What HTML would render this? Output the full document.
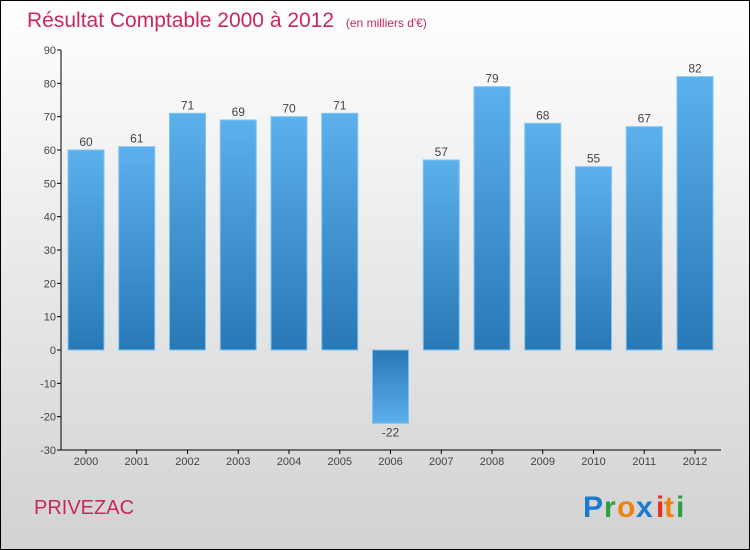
<!DOCTYPE html>
<html><head><meta charset="utf-8"><style>
body{margin:0;}
svg{display:block;font-family:"Liberation Sans",sans-serif;}
</style></head><body>
<svg id="c" width="750" height="550" xmlns="http://www.w3.org/2000/svg">
<defs>
<linearGradient id="bg" x1="0" y1="0" x2="0" y2="1"><stop offset="0" stop-color="#ffffff"/><stop offset="1" stop-color="#d2d2d2"/></linearGradient>
<linearGradient id="gp" x1="0" y1="1" x2="0" y2="0"><stop offset="0" stop-color="#2878b6"/><stop offset="1" stop-color="#5cb0ec"/></linearGradient>
<linearGradient id="gn" x1="0" y1="0" x2="0" y2="1"><stop offset="0" stop-color="#2878b6"/><stop offset="1" stop-color="#5cb0ec"/></linearGradient>
</defs>
<rect x="0.5" y="0.5" width="749" height="549" fill="url(#bg)" stroke="#000"/>
<text x="27" y="27" font-size="21" fill="#c8285a">Résultat Comptable 2000 à 2012 <tspan font-size="12" dx="6">(en milliers d'€)</tspan></text>
<text x="34" y="514" font-size="20" fill="#c8285a">PRIVEZAC</text>
<g font-size="30" font-weight="bold">
<text x="583" y="517" fill="#1a7ad0">P</text><text x="604" y="517" fill="#2aa040">r</text><text x="617" y="517" fill="#f08010">o</text><text x="636" y="517" fill="#1a7ad0">x</text><text x="656" y="517" fill="#e03020">i</text><text x="664" y="517" fill="#f08010">t</text><text x="676" y="517" fill="#2aa040">i</text>
</g>
<g id="axes"></g>
<g id="bars"></g>
</svg>
<script>
const years=["2000","2001","2002","2003","2004","2005","2006","2007","2008","2009","2010","2011","2012"];
const values=[60,61,71,69,70,71,-22,57,79,68,55,67,82];
const yTicks=[90,80,70,60,50,40,30,20,10,0,-10,-20,-30];
const NS="http://www.w3.org/2000/svg";
const yMin=-30,yMax=90,plotTop=50,plotBot=450,plotLeft=61,plotRight=721;
const yScale=v=>plotBot-(v-yMin)/(yMax-yMin)*(plotBot-plotTop);
const step=50.75;const xc=i=>86+i*step;
function mk(t,a,p){const e=document.createElementNS(NS,t);for(const k in a)e.setAttribute(k,a[k]);p.appendChild(e);return e;}
const ax=document.getElementById('axes'),bars=document.getElementById('bars');
const yl=mk('line',{x1:plotLeft,y1:plotTop,x2:plotLeft,y2:plotBot,stroke:'#000'},ax);


const xl=mk('line',{x1:plotLeft,y1:plotBot,x2:plotRight,y2:plotBot,stroke:'#000'},ax);


yTicks.forEach(v=>{
 mk('line',{x1:plotLeft-4,y1:yScale(v),x2:plotLeft,y2:yScale(v),stroke:'#000'},ax);
 const t=mk('text',{x:plotLeft-5,y:yScale(v)+4,'text-anchor':'end','font-size':11,fill:'#444'},ax);t.textContent=v;
 
 
});
years.forEach((yr,i)=>{
 const cx=xc(i),v=values[i];
 mk('line',{x1:cx,y1:plotBot,x2:cx,y2:plotBot+4,stroke:'#000'},ax);
 const t=mk('text',{x:cx,y:plotBot+15,'text-anchor':'middle','font-size':11,fill:'#444'},ax);t.textContent=yr;
 
 
 const y0=yScale(0),y1=yScale(v);
 const r=mk('rect',{x:cx-18,y:Math.min(y0,y1),width:36,height:Math.abs(y1-y0),fill:v>=0?'url(#gp)':'url(#gn)',stroke:'#7cc4f4','stroke-width':1},bars);
 
 
 const l=mk('text',{x:cx,y:v>=0?y1-4:y1+13,'text-anchor':'middle','font-size':12,fill:'#444'},bars);l.textContent=v;
 
 
});
</script>
</body></html>
